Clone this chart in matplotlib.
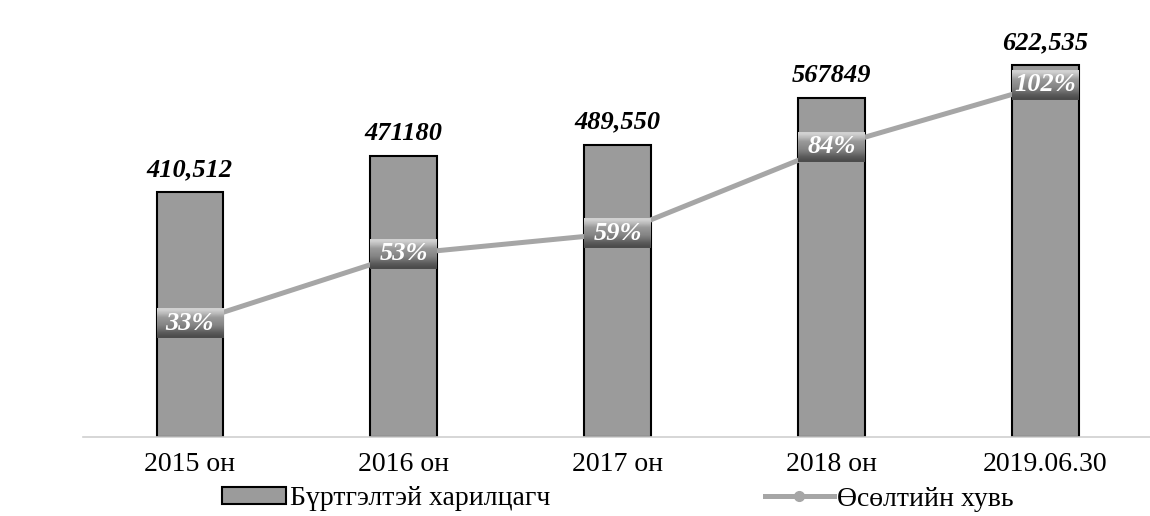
import matplotlib.pyplot as plt
import numpy as np
from matplotlib.patches import Patch
from matplotlib.lines import Line2D

plt.rcParams['font.family'] = ['Liberation Serif', 'DejaVu Serif']

# data
categories = ['2015 он', '2016 он', '2017 он', '2018 он', '2019.06.30']
customers = [410512, 471180, 489550, 567849, 622535]
customer_labels = ['410,512', '471180', '489,550', '567849', '622,535']
growth = [33, 53, 59, 84, 102]
growth_labels = ['33%', '53%', '59%', '84%', '102%']

bar_color = '#9b9b9b'
line_color = '#a6a6a6'
bar_w = 0.31

fig = plt.figure(figsize=(11.5, 5.16), dpi=100)
ax = fig.add_axes([0.072, 0.153, 0.93, 0.81])
x = np.arange(len(categories))

ax.bar(x, customers, width=bar_w, color=bar_color, edgecolor='black', linewidth=1.5, zorder=2)
for xi, v, lab in zip(x, customers, customer_labels):
    ax.annotate(lab, (xi, v), xytext=(0, 8), textcoords='offset points',
                ha='center', va='bottom', fontsize=19, fontweight='bold', fontstyle='italic')

ax.set_xlim(-0.5, len(categories) - 0.5)
ax.set_ylim(0, 700000)
ax.set_xticks(x)
ax.set_xticklabels(categories, fontsize=20)
ax.tick_params(axis='x', length=0, pad=11)
ax.set_yticks([])
for s in ['top', 'right', 'left']:
    ax.spines[s].set_visible(False)
ax.spines['bottom'].set_color('#d0d0d0')
ax.spines['bottom'].set_linewidth(1.2)

# growth line on second axis
ax2 = ax.twinx()
ax2.set_yticks([])
for s in ax2.spines.values():
    s.set_visible(False)
ax2.plot(x, growth, color=line_color, linewidth=3.6, marker='o', markersize=7, zorder=3)

# gradient label boxes
grad = np.array([0.82, 0.72, 0.60, 0.56, 0.52, 0.45, 0.36, 0.30]).reshape(-1, 1)
half_h = 4.3
for xi, v, lab in zip(x, growth, growth_labels):
    ax2.imshow(grad, cmap='gray', vmin=0, vmax=1, aspect='auto', interpolation='bilinear',
               extent=(xi - bar_w / 2, xi + bar_w / 2, v - half_h, v + half_h), zorder=4)
    ax2.text(xi, v, lab, ha='center', va='center', color='white', fontsize=19,
             fontweight='bold', fontstyle='italic', zorder=5)
ax2.set_xlim(-0.5, len(categories) - 0.5)
ax2.set_ylim(0, 121)

# legend
h1 = Patch(facecolor=bar_color, edgecolor='black', linewidth=1.5)
h2 = Line2D([], [], color=line_color, linewidth=3.6, marker='o', markersize=7)
fig.legend([h1], ['Бүртгэлтэй харилцагч'], loc='center left', bbox_to_anchor=(0.193, 0.033),
           frameon=False, fontsize=20, borderpad=0, borderaxespad=0,
           handlelength=2.3, handleheight=0.6, handletextpad=0.15)
fig.legend([h2], ['Өсөлтийн хувь'], loc='center left', bbox_to_anchor=(0.665, 0.033),
           frameon=False, fontsize=20, borderpad=0, borderaxespad=0,
           handlelength=2.5, handletextpad=0.1)

fig.savefig('out.png', dpi=100)
